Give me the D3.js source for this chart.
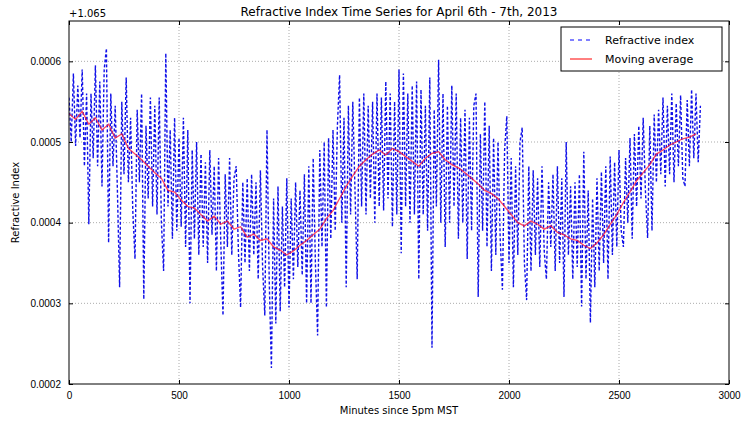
<!DOCTYPE html>
<html>
<head>
<meta charset="utf-8">
<script src="https://cdn.jsdelivr.net/npm/d3@7"></script>
<style>
  body { margin: 0; background: #fff; }
  svg { font-family: "DejaVu Sans", sans-serif; }
</style>
</head>
<body>
<div id="container"></div>
<script>
// values are offsets from 1.065, in units of 1e-6
const riStep = 10;
const riOffset = [
  555, 500, 585, 495, 570, 505, 590, 470, 560, 398,
  560, 480, 595, 470, 575, 445, 590, 616, 375, 560,
  470, 545, 440, 320, 550, 460, 580, 450, 530, 415,
  355, 540, 450, 560, 305, 520, 430, 555, 420, 545,
  410, 555, 400, 340, 610, 420, 515, 380, 530, 390,
  505, 395, 530, 370, 515, 300, 490, 380, 500, 360,
  485, 370, 475, 350, 490, 385, 470, 340, 480, 375,
  285, 460, 370, 480, 360, 455, 470, 365, 295, 450,
  350, 455, 340, 460, 360, 450, 330, 465, 345, 285,
  515, 330, 220, 430, 275, 445, 290, 420, 320, 455,
  295, 430, 330, 450, 345, 440, 335, 460, 300, 470,
  300, 480, 350, 260, 490, 370, 500, 295, 505, 380,
  515, 390, 520, 583, 400, 530, 320, 545, 410, 550,
  440, 330, 555, 420, 560, 410, 545, 430, 550, 400,
  560, 420, 555, 415, 575, 430, 560, 395, 550, 410,
  590, 362, 585, 420, 560, 400, 570, 410, 575, 330,
  565, 410, 545, 390, 580, 245, 540, 420, 602, 400,
  560, 370, 545, 400, 570, 420, 560, 380, 530, 400,
  540, 355, 530, 390, 545, 560, 308, 510, 390, 550,
  370, 520, 340, 505, 360, 500, 380, 317, 490, 532,
  350, 480, 320, 470, 360, 500, 518, 350, 304, 470,
  340, 465, 360, 455, 345, 470, 365, 330, 450, 370,
  460, 340, 470, 350, 455, 308, 500, 360, 445, 330,
  450, 345, 460, 296, 488, 330, 440, 276, 430, 320,
  455, 340, 463, 350, 470, 330, 482, 360, 475, 370,
  490, 390, 370, 480, 400, 505, 380, 510, 420, 520,
  430, 530, 440, 381, 520, 390, 534, 450, 540, 460,
  555, 445, 545, 460, 560, 450, 548, 470, 558, 455,
  445, 552, 470, 565, 480, 560, 475, 545
];

const maStep = 30;
const maOffset = [
  535, 528, 538, 522, 530, 515, 522, 505, 510, 492,
  485, 478, 470, 462, 455, 440, 438, 428, 420, 418,
  410, 402, 408, 398, 402, 392, 395, 382, 386, 378,
  380, 370, 366, 360, 365, 372, 378, 385, 392, 405,
  415, 430, 445, 458, 470, 478, 485, 490, 484, 492,
  488, 482, 476, 470, 480, 486, 488, 478, 472, 468,
  462, 455, 448, 440, 436, 430, 420, 410, 400, 396,
  402, 398, 392, 396, 388, 385, 380, 378, 372, 368,
  375, 385, 398, 410, 425, 438, 452, 462, 472, 485,
  490, 496, 500, 504, 506, 510
];

const xTicks = [0, 500, 1000, 1500, 2000, 2500, 3000];
const yTicks = [0.0002, 0.0003, 0.0004, 0.0005, 0.0006];
const yOffsetLabel = '+1.065';

const riData = riOffset.map((v, i) => ({ t: i * riStep, v: v * 1e-6 }));
const maData = maOffset.map((v, i) => ({ t: i * maStep, v: v * 1e-6 }));

const w = 741;
const h = 423;
const margin = { top: 21, right: 12, bottom: 39, left: 69 };
const width = w - margin.left - margin.right;
const height = h - margin.top - margin.bottom;

const svg = d3.select('#container')
  .append('svg')
  .attr('width', w)
  .attr('height', h);

const g = svg.append('g')
  .attr('transform', `translate(${margin.left}, ${margin.top})`);

const xScale = d3.scaleLinear().domain([0, 3000]).range([0, width]);
const yScale = d3.scaleLinear().domain([0.0002, 0.00065]).range([height, 0]);

g.append('clipPath')
  .attr('id', 'clip')
  .append('rect')
  .attr('width', width)
  .attr('height', height);

// grid
g.selectAll('.gx')
  .data(xTicks.slice(1, -1))
  .enter().append('line')
  .attr('x1', d => xScale(d)).attr('x2', d => xScale(d))
  .attr('y1', 0).attr('y2', height)
  .attr('stroke', '#888').attr('stroke-width', 0.7)
  .attr('stroke-dasharray', '1,2');

g.selectAll('.gy')
  .data(yTicks.slice(1))
  .enter().append('line')
  .attr('x1', 0).attr('x2', width)
  .attr('y1', d => yScale(d)).attr('y2', d => yScale(d))
  .attr('stroke', '#888').attr('stroke-width', 0.7)
  .attr('stroke-dasharray', '1,2');

const plot = g.append('g').attr('clip-path', 'url(#clip)');

const line = d3.line()
  .x(d => xScale(d.t))
  .y(d => yScale(d.v));

plot.append('path')
  .datum(riData)
  .attr('fill', 'none')
  .attr('stroke', '#1010e8')
  .attr('stroke-width', 1.4)
  .attr('stroke-dasharray', '3,2')
  .attr('d', line);

plot.append('path')
  .datum(maData)
  .attr('fill', 'none')
  .attr('stroke', '#ff1030')
  .attr('stroke-opacity', 0.75)
  .attr('stroke-width', 1.3)
  .attr('d', line);

// axes (ticks inside, on all four sides)
const tickFont = g => g.selectAll('text').attr('font-size', '10px').attr('fill', '#000');

g.append('g')
  .attr('transform', `translate(0, ${height})`)
  .call(d3.axisBottom(xScale).tickValues(xTicks).tickSize(-4).tickPadding(8)
    .tickFormat(d3.format('d')))
  .call(tickFont);

g.append('g')
  .call(d3.axisLeft(yScale).tickValues(yTicks).tickSize(-4).tickPadding(8)
    .tickFormat(d3.format('.4f')))
  .call(tickFont);

g.append('g')
  .call(d3.axisTop(xScale).tickValues(xTicks).tickSize(-4).tickFormat(''));

g.append('g')
  .attr('transform', `translate(${width}, 0)`)
  .call(d3.axisRight(yScale).tickValues(yTicks).tickSize(-4).tickFormat(''));

g.selectAll('.domain').remove();
g.append('rect')
  .attr('width', width)
  .attr('height', height)
  .attr('fill', 'none')
  .attr('stroke', '#000')
  .attr('stroke-width', 1);

// texts
svg.append('text')
  .attr('x', margin.left + width / 2)
  .attr('y', 16)
  .attr('text-anchor', 'middle')
  .attr('font-size', '12px')
  .text('Refractive Index Time Series for April 6th - 7th, 2013');

svg.append('text')
  .attr('x', margin.left)
  .attr('y', 17)
  .attr('font-size', '10px')
  .text(yOffsetLabel);

svg.append('text')
  .attr('x', margin.left + width / 2)
  .attr('y', h - 9)
  .attr('text-anchor', 'middle')
  .attr('font-size', '10px')
  .text('Minutes since 5pm MST');

svg.append('text')
  .attr('transform', `translate(19, ${margin.top + height / 2}) rotate(-90)`)
  .attr('text-anchor', 'middle')
  .attr('font-size', '10px')
  .text('Refractive Index');

// legend
const legend = svg.append('g').attr('transform', 'translate(561, 27)');
legend.append('rect')
  .attr('width', 161)
  .attr('height', 44)
  .attr('fill', '#fff')
  .attr('stroke', '#000')
  .attr('stroke-width', 1);

const legendItems = [
  { label: 'Refractive index', color: '#0000ff', dash: '4,4' },
  { label: 'Moving average', color: '#ff0000', dash: null }
];

legendItems.forEach((d, i) => {
  const y = 13 + i * 19;
  legend.append('line')
    .attr('x1', 9).attr('x2', 31)
    .attr('y1', y).attr('y2', y)
    .attr('stroke', d.color)
    .attr('stroke-width', 1)
    .attr('stroke-dasharray', d.dash);
  legend.append('text')
    .attr('x', 44)
    .attr('y', y + 4)
    .attr('font-size', '11px')
    .text(d.label);
});
</script>
</body>
</html>
